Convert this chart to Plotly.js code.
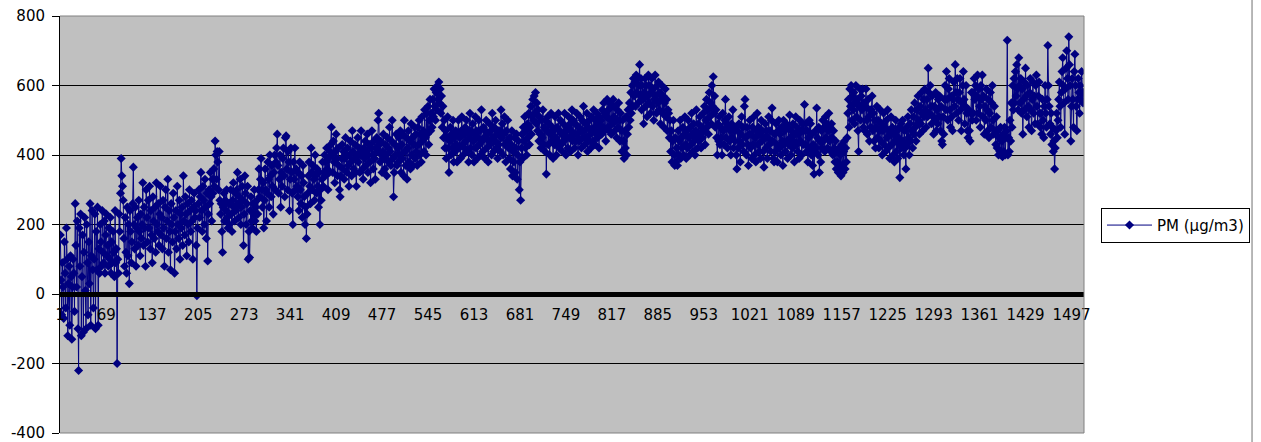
<!DOCTYPE html>
<html>
<head>
<meta charset="utf-8">
<script src="https://cdn.plot.ly/plotly-3.0.1.min.js"></script>
<style>
  html, body { margin: 0; padding: 0; background: #fff; }
  #chart { width: 1261px; height: 442px; }
</style>
</head>
<body>
<div id="chart"></div>
<script>
// PM (µg/m3) readings, one per sample (1 … 1515)
const pm = [
  170,40,-60,90,20,-70,150,60,-40,190,100,-120,30,80,-90,110,50,-130,20,100,60,-50,260,140,20,210,-100,-220,190,80,230,-120,50,170,-110,120,220,10,-100,200,90,-60,150,30,260,-90,110,240,70,-40,
  100,230,-100,180,70,250,-90,130,60,200,150,80,240,120,90,210,60,170,230,110,140,80,190,100,220,60,150,90,180,120,50,240,90,130,-200,100,60,230,180,290,390,340,310,270,160,80,220,120,60,250,
  110,200,30,240,180,90,150,260,365,200,130,250,80,190,220,140,270,180,110,230,160,200,320,140,250,190,80,300,220,150,270,190,310,130,240,170,90,280,210,160,250,120,320,200,180,260,140,230,310,170,
  220,130,270,190,80,250,300,160,210,330,120,240,180,70,260,200,150,290,220,60,180,240,130,310,200,160,270,100,230,190,250,140,340,210,170,280,230,110,260,200,150,300,240,180,270,210,100,250,290,220,
  240,140,-5,190,260,300,220,280,350,240,180,310,270,200,330,250,160,290,95,230,300,260,350,280,210,330,290,360,310,440,400,330,410,380,300,410,270,230,260,180,120,250,290,210,270,240,300,220,190,260,
  200,260,300,230,180,270,320,250,210,290,240,300,350,260,220,280,330,200,250,310,270,140,230,340,290,200,260,310,100,180,105,240,280,210,190,260,230,300,210,250,180,270,230,300,360,280,330,390,300,250,
  320,190,270,360,300,210,290,380,330,250,400,340,280,370,310,230,350,400,300,380,420,460,370,290,330,400,250,350,310,390,420,340,280,450,455,360,300,410,380,240,330,420,350,290,200,380,330,420,300,360,
  310,280,350,240,380,300,260,340,220,370,320,280,200,250,160,230,290,340,380,310,260,420,350,300,370,330,270,400,340,290,360,310,250,350,200,300,270,330,380,310,350,400,340,380,420,360,300,390,350,410,
  430,480,400,350,440,380,320,410,460,390,340,420,370,300,280,340,390,430,360,410,330,390,450,400,350,420,370,310,400,440,380,340,470,410,360,390,430,350,310,400,450,380,420,350,400,470,410,360,330,420,
  390,440,370,410,460,350,400,430,380,320,420,470,400,360,440,390,330,420,450,410,500,520,430,380,440,400,350,410,460,390,360,430,400,340,450,420,380,480,410,370,440,500,390,280,350,430,400,460,370,420,
  380,450,400,470,350,430,390,460,340,500,410,370,450,330,420,470,380,440,360,490,400,450,370,430,480,390,460,410,370,480,430,500,400,460,380,510,440,470,410,530,450,400,520,460,540,430,500,560,470,520,
  480,560,510,590,540,500,580,530,600,560,610,550,590,520,570,480,540,450,500,420,470,390,450,510,420,350,440,480,400,460,420,500,380,450,410,470,430,380,460,500,420,450,390,470,510,430,400,460,420,480,
  440,500,410,470,380,450,520,420,470,400,490,440,380,460,510,420,470,390,450,500,430,470,400,530,440,410,480,450,390,470,500,420,460,380,440,490,430,470,400,520,450,410,480,440,500,420,460,390,470,430,
  470,410,530,450,490,400,460,510,430,380,470,440,500,420,390,450,360,430,470,340,410,380,450,350,420,460,330,400,440,300,380,270,420,460,390,480,440,510,420,470,400,490,450,520,430,480,540,460,510,560,
  500,570,520,580,490,550,470,530,440,510,460,420,500,450,530,430,480,410,500,345,470,510,430,490,400,460,520,440,480,390,470,430,510,450,400,480,440,520,420,470,500,430,460,410,490,440,520,450,400,470,
  480,420,510,450,490,410,470,530,440,500,460,420,490,440,520,460,400,480,440,510,470,420,500,450,540,470,430,490,450,520,410,480,440,500,460,420,510,470,440,530,480,430,500,460,520,450,490,420,510,470,
  500,460,530,480,550,470,520,440,510,560,480,530,470,550,500,460,540,490,560,510,470,540,500,450,530,480,550,500,440,520,470,410,500,440,390,470,420,510,400,460,530,480,550,500,580,520,600,540,620,570,
  610,540,630,580,620,550,600,660,570,620,530,600,560,490,580,620,540,600,510,570,630,550,600,520,580,620,540,590,500,560,630,570,520,600,550,610,530,580,490,560,600,520,570,480,550,590,510,560,470,530,
  520,450,500,410,470,380,440,500,400,370,450,380,420,370,470,400,440,500,390,450,420,480,400,460,510,430,390,470,420,500,450,400,480,430,520,460,410,490,440,400,470,530,450,420,490,440,510,460,420,480,
  450,520,470,540,430,500,560,480,530,460,580,510,550,490,600,540,625,520,570,480,530,450,400,490,440,510,430,480,450,400,520,470,430,500,560,450,490,420,480,510,440,470,400,490,450,530,420,470,440,480,
  400,360,470,420,490,440,380,460,510,430,480,410,540,560,450,400,480,430,370,460,500,420,460,390,480,430,510,400,450,380,470,520,430,480,410,460,390,500,440,470,410,365,450,490,420,470,390,450,510,430,
  470,410,500,535,440,390,380,460,410,490,430,380,470,500,420,460,400,480,440,370,500,430,470,410,490,440,390,480,430,515,450,400,470,420,490,440,380,460,510,430,480,410,460,390,500,440,470,400,490,430,
  470,545,430,490,410,470,380,450,500,420,490,400,460,370,430,345,410,470,420,535,450,400,480,350,440,380,470,420,500,440,480,410,510,450,490,420,470,520,440,480,410,490,450,400,470,420,380,440,360,410,
  380,350,420,360,400,340,430,370,350,410,440,360,420,380,450,520,560,480,590,540,600,500,570,530,580,490,550,600,510,560,470,410,540,590,500,570,530,590,480,550,470,540,590,500,460,560,510,440,530,480,
  530,570,470,520,440,500,420,480,540,450,500,420,470,530,440,490,400,470,520,430,480,410,500,450,530,420,470,390,460,510,430,480,400,460,380,440,500,410,470,390,450,480,335,430,490,420,500,440,400,470,
  420,360,480,430,510,450,400,490,440,530,470,420,510,460,550,480,440,530,490,570,500,460,540,490,580,520,470,560,510,590,530,480,560,510,650,580,520,600,540,490,570,510,460,540,500,580,470,530,490,560,
  510,570,470,540,440,430,510,460,560,600,530,640,560,500,590,620,530,480,570,510,470,560,610,540,660,580,520,620,560,500,580,620,530,470,550,600,640,560,490,540,600,520,470,450,530,470,440,520,580,500,
  580,520,620,560,600,500,570,630,520,590,540,480,600,560,630,510,570,460,540,500,590,530,470,560,450,520,580,480,550,600,500,460,540,470,430,510,420,470,400,450,410,480,400,440,395,460,410,480,400,450,
  470,730,400,450,410,500,440,550,480,600,530,620,550,640,570,660,590,530,680,600,550,620,520,590,460,560,610,530,650,570,510,600,540,480,580,620,530,470,560,610,520,570,490,600,630,540,490,570,610,520,
  480,520,460,560,500,450,540,600,520,480,560,715,600,540,490,460,520,430,480,410,440,360,420,470,520,450,500,560,610,540,480,580,640,680,600,550,460,590,650,700,620,560,740,660,600,440,540,620,560,480,640,690,600,540,470,560,620,580,520,600,560,640,580,550,580
];

// category axis labels shown under the zero line
const xTickLabels = [1,69,137,205,273,341,409,477,545,613,681,749,817,885,953,1021,1089,1157,1225,1293,1361,1429,1497];
// value axis ticks
const yTickValues = [-400,-200,0,200,400,600,800];
const yTickLabels = ['-400','-200','0','200','400','600','800'];
const seriesName = 'PM (µg/m3)';

const sampleNo = pm.map((_, i) => i + 1);

const trace = {
  x: sampleNo,
  y: pm,
  type: 'scatter',
  mode: 'lines+markers',
  name: seriesName,
  line: { color: '#000080', width: 1 },
  marker: { symbol: 'diamond', size: 7, color: '#000080' },
  hoverinfo: 'x+y'
};

const gray = '#808080';
const layout = {
  width: 1261,
  height: 442,
  margin: { l: 60, r: 177, t: 16, b: 9, pad: 0 },
  paper_bgcolor: '#ffffff',
  plot_bgcolor: '#c0c0c0',
  font: { family: 'DejaVu Sans, Arial, sans-serif', size: 15, color: '#000' },
  showlegend: true,
  xaxis: {
    range: [0.5, 1515.5],
    tickmode: 'array',
    tickvals: xTickLabels,
    ticktext: xTickLabels.map(String),
    tickangle: 0,
    anchor: 'free',
    position: 400 / 1200,
    showline: true,
    linecolor: '#000',
    linewidth: 5,
    showgrid: false,
    zeroline: false,
    ticks: '',
    ticklabelstandoff: 5,
    ticklabeloverflow: 'allow',
    tickfont: { size: 15, color: '#000' }
  },
  yaxis: {
    range: [-400, 800],
    tickmode: 'array',
    tickvals: yTickValues,
    ticktext: yTickLabels,
    showgrid: true,
    gridcolor: '#000',
    gridwidth: 1,
    zeroline: false,
    showline: true,
    linecolor: '#000',
    linewidth: 1,
    ticks: 'outside',
    ticklen: 7,
    tickcolor: '#000',
    tickwidth: 1,
    ticklabelstandoff: 4,
    ticklabeloverflow: 'allow',
    tickfont: { size: 15, color: '#000' }
  },
  legend: {
    x: 1.0166,
    xanchor: 'left',
    y: 0.54,
    yanchor: 'top',
    bgcolor: '#ffffff',
    bordercolor: '#000',
    borderwidth: 1,
    itemwidth: 45,
    font: { size: 15, color: '#000' }
  },
  shapes: [
    { type: 'line', xref: 'paper', yref: 'paper', x0: 0, x1: 1, y0: 1, y1: 1, line: { color: gray, width: 1 }, layer: 'above' },
    { type: 'line', xref: 'paper', yref: 'paper', x0: 1, x1: 1, y0: 0, y1: 1, line: { color: gray, width: 1 }, layer: 'above' },
    { type: 'line', xref: 'paper', yref: 'paper', x0: 0, x1: 1, y0: 0, y1: 0, line: { color: gray, width: 1 }, layer: 'above' },
    { type: 'line', xref: 'paper', yref: 'paper', x0: 1.1641, x1: 1.1641, y0: -0.03, y1: 1.05, line: { color: '#a0a0a0', width: 1.5 }, layer: 'above' }
  ]
};

Plotly.newPlot('chart', [trace], layout, { staticPlot: true, displayModeBar: false });
</script>
</body>
</html>
